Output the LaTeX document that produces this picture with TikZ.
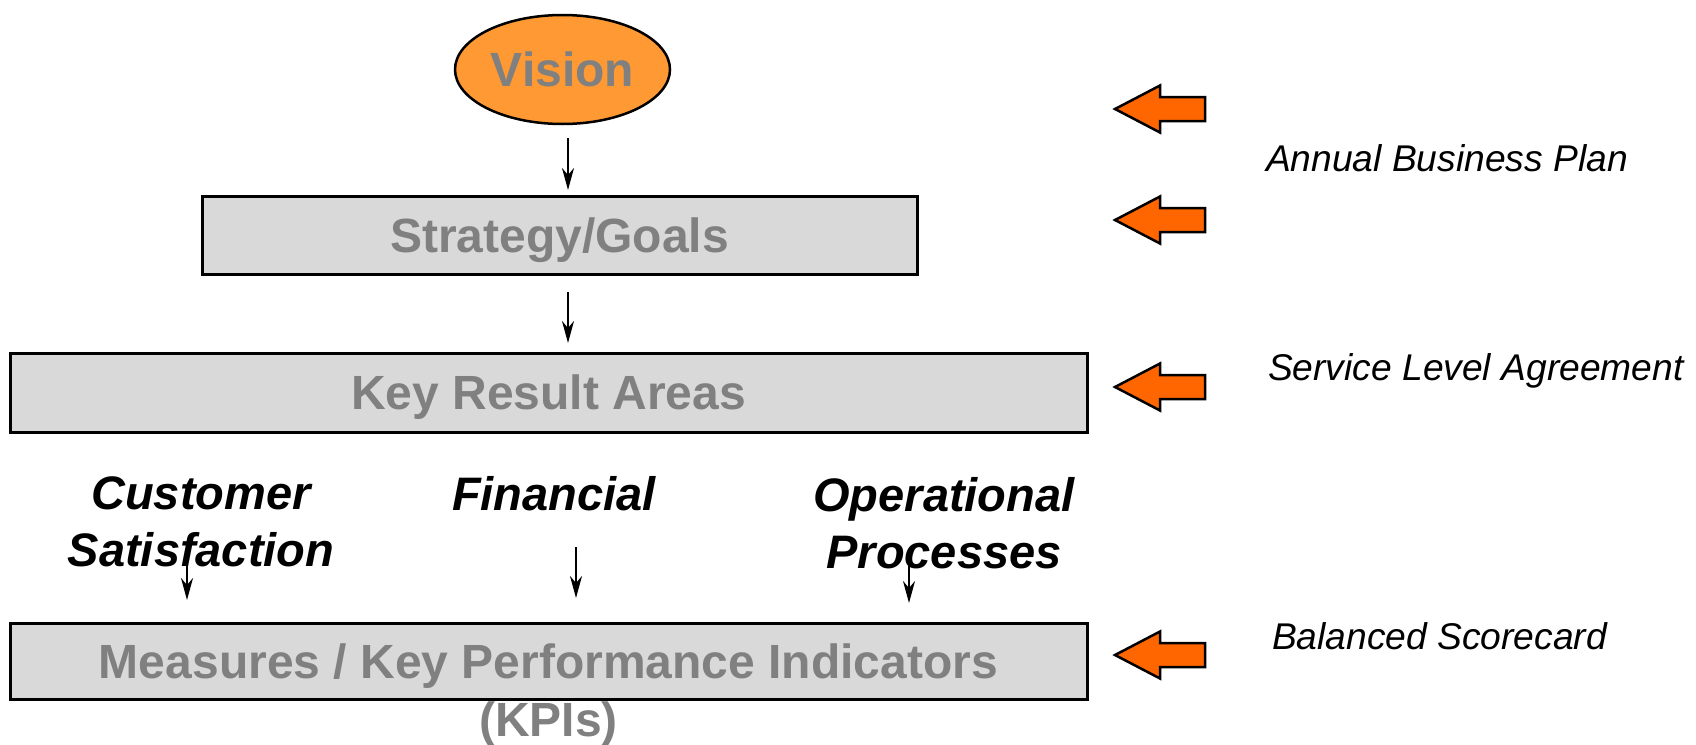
\documentclass[tikz,border=0pt]{standalone}
\usepackage{fontspec}
\setmainfont{Liberation Sans}
\usetikzlibrary{shapes.geometric, arrows.meta}
\definecolor{visionfill}{HTML}{FF9933}
\definecolor{blockfill}{HTML}{FF6600}
\definecolor{boxfill}{HTML}{D9D9D9}
\definecolor{labelgray}{HTML}{808080}
\begin{document}
\begin{tikzpicture}[x=1pt, y=-1pt,
  every node/.style={inner sep=0pt, outer sep=0pt},
  headingtext/.style={text=labelgray, font=\bfseries\fontsize{48}{57}\selectfont},
  stagebox/.style={headingtext, draw=black, line width=3pt, fill=boxfill,
    text height=34pt, text depth=0pt},
  visionshape/.style={headingtext, ellipse, draw=black, line width=2.5pt,
    fill=visionfill, text height=34pt, text depth=0pt},
  % base anchor of a multi-line label sits on its last line
  arealabel/.style={align=center, anchor=base,
    font=\bfseries\itshape\fontsize{47}{57}\selectfont},
  planlabel/.style={anchor=base west, font=\itshape\fontsize{37.2}{44}\selectfont},
  flowarrow/.style={line width=2pt, -{Stealth[length=22pt, width=12pt, inset=7pt]}},
  blockarrow/.pic={
    \draw[line width=2.5pt, fill=blockfill, line join=miter]
      (0,0) -- (45,-23.5) -- (45,-12) -- (90,-12) -- (90,12) -- (45,12) -- (45,23.5) -- cycle;
  }
]
\useasboundingbox (0,0) rectangle (1696,744);

% hierarchy of planning levels
\node[visionshape, minimum width=215pt, minimum height=109pt] (vision) at (562.5,69.5) {Vision};
\node[stagebox, minimum width=715pt, minimum height=78pt] (strat) at (559.5,235) {Strategy/Goals};
\node[stagebox, minimum width=1077pt, minimum height=79pt] (kra) at (548.5,392.5) {Key Result Areas};
\node[stagebox, minimum width=1077pt, minimum height=76pt] (kpi) at (548.5,661)
  {Measures / Key Performance Indicators};
\node[headingtext, anchor=base] (kpis) at (548.5,736) {(KPIs)};

% result area labels
\node[arealabel] (cust) at (201,566) {Customer\\Satisfaction};
\node[arealabel] (fin) at (554,510) {Financial};
\node[arealabel] (oper) at (944,568) {Operational\\Processes};

% vertical guides for the downward connectors
\coordinate (gx) at (568,0);
\coordinate (cx) at (187,0);
\coordinate (fx) at (576,0);
\coordinate (ox) at (909,0);

\draw[flowarrow, shorten <=14pt, shorten >=6pt] (vision.south -| gx) -- (strat.north -| gx);
\draw[flowarrow, shorten <=18pt, shorten >=10pt] (strat.south -| gx) -- (kra.north -| gx);
\draw[flowarrow, shorten <=126pt, shorten >=23pt] (kra.south -| cx) -- (kpi.north -| cx);
\draw[flowarrow, shorten <=115pt, shorten >=25pt] (kra.south -| fx) -- (kpi.north -| fx);
\draw[flowarrow, shorten <=126pt, shorten >=20pt] (kra.south -| ox) -- (kpi.north -| ox);

% block arrows pointing at each level
\pic at (1115,109) {blockarrow};
\pic at (1115,220) {blockarrow};
\pic at (1115,387) {blockarrow};
\pic at (1115,655) {blockarrow};

% planning documents
\node[planlabel] (abp) at (1266,171) {Annual Business Plan};
\node[planlabel] (sla) at (1268,380) {Service Level Agreement};
\node[planlabel] (bsc) at (1272,649) {Balanced Scorecard};
\end{tikzpicture}
\end{document}
